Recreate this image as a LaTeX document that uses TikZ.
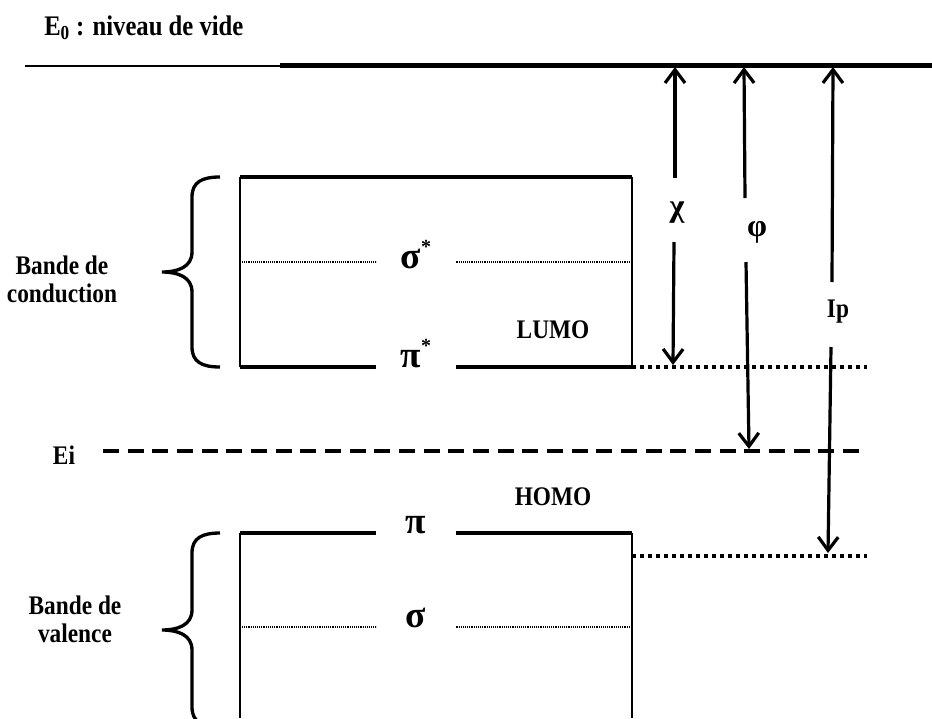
\documentclass[tikz,border=0pt]{standalone}
\usepackage{fontspec}
\usepackage{graphicx}
\setmainfont{Liberation Serif}
\usetikzlibrary{arrows.meta}

% texte un peu etire en hauteur
\newcommand{\haut}[1]{\scalebox{1}[1.15]{#1}}
% asterisque en exposant
\newcommand{\etoile}{\raisebox{11pt}{\fontsize{15}{15}\selectfont *}}

% accolade verticale : y haut, y bas (pointe au milieu)
\newcommand{\accolade}[2]{%
  \draw[accol] (220,#1) .. controls (202,#1) and (192,#1+5) .. (192,#1+20)
    -- (192,{(#1+#2)/2-20}) .. controls (192,{(#1+#2)/2-5}) and (178,{(#1+#2)/2}) .. (162,{(#1+#2)/2})
    .. controls (178,{(#1+#2)/2}) and (192,{(#1+#2)/2+5}) .. (192,{(#1+#2)/2+20})
    -- (192,#2-20) .. controls (192,#2-5) and (202,#2) .. (220,#2);}

\begin{document}
\begin{tikzpicture}[x=0.75pt, y=-0.75pt,
    vide/.style={line width=3.75pt},
    videg/.style={line width=2pt},
    bord/.style={line width=1.2pt},
    niveau/.style={line width=3pt},
    pointfin/.style={line width=0.8pt, dash pattern=on 0.7pt off 0.7pt},
    orb/.style={line width=2.5pt, dash pattern=on 3pt off 3pt},
    fermi/.style={line width=3pt, dash pattern=on 12pt off 6.5pt},
    accol/.style={line width=2.5pt},
    fleche/.style={line width=2.4pt, -{Straight Barb[length=10pt, width=15pt]}},
    lbl/.style={font=\fontsize{17.5}{21}\selectfont\bfseries, inner sep=0pt, align=center},
    sym/.style={font=\fontsize{24}{28}\selectfont\bfseries, inner sep=0pt},
    grec/.style={font=\fontsize{28}{32}\selectfont\bfseries, inner sep=0pt, minimum width=59pt}
]
\useasboundingbox (0,0) rectangle (932,718);

% Niveau du vide
\node[lbl, anchor=west, font=\fontsize{18.5}{22}\selectfont\bfseries] (E0) at (44,28) {\haut{E\textsubscript{0} : niveau de vide}};
\coordinate (vG) at (25,66);
\coordinate (vM) at (280,66);
\coordinate (vM2) at (280,65);
\coordinate (vD) at (932,65);
\draw[videg] (vG) -- (vM);
\draw[vide] (vM2) -- (vD);

% Bande de conduction
\coordinate (bcHG) at (240,177);
\coordinate (bcHD) at (632,177);
\coordinate (bcBG) at (240,367);
\coordinate (bcBD) at (632,367);
\coordinate (sseG) at (242,262);
\coordinate (sseD) at (632,262);
\node[grec, anchor=base] (sse) at (416,268) {σ\etoile};
\node[grec, anchor=base] (pie) at (416,367) {π\etoile};
\draw[niveau, line width=2.5pt] (bcHG) -- (bcHD);
\draw[bord] (bcHG) -- (bcBG);
\draw[bord] (bcHD) -- (bcBD);
\draw[pointfin] (sseG) -- (sseG -| sse.west);
\draw[pointfin] (sseD -| sse.east) -- (sseD);
\draw[niveau] (bcBG) -- (pie.base west);
\draw[niveau] (pie.base east) -- (bcBD);
\coordinate (lumoD) at (867,367);
\draw[orb] (bcBD) -- (lumoD);
\node[lbl] (lumo) at (553,330) {\haut{LUMO}};
\accolade{177}{367}
\node[lbl] (bc) at (62,279) {\haut{Bande de}\\\haut{conduction}};

% Niveau intrinseque
\node[lbl] (Ei) at (64,455) {\haut{Ei}};
\coordinate (EiG) at (103,451);
\coordinate (EiD) at (867,451);
\draw[fermi] (EiG) -- (EiD);
\node[lbl] (homo) at (553,497) {\haut{HOMO}};

% Bande de valence
\coordinate (bvHG) at (240,533);
\coordinate (bvHD) at (632,533);
\coordinate (bvBG) at (240,718);
\coordinate (bvBD) at (632,718);
\coordinate (sigG) at (242,627);
\coordinate (sigD) at (632,627);
\node[grec, anchor=base] (pi) at (416,533) {π};
\node[grec, anchor=base] (sig) at (416,627) {σ};
\draw[niveau] (bvHG) -- (pi.base west);
\draw[niveau] (pi.base east) -- (bvHD);
\draw[bord] (bvHG) -- (bvBG);
\draw[bord] (bvHD) -- (bvBD);
\draw[pointfin] (sigG) -- (sig.base west);
\draw[pointfin] (sig.base east) -- (sigD);
\coordinate (homoG) at (632,556);
\coordinate (homoD) at (867,556);
\draw[orb] (homoG) -- (homoD);
\accolade{533}{727}
\node[lbl] (bv) at (75,619) {\haut{Bande de}\\\haut{valence}};

% Affinite, travail de sortie, ionisation
\coordinate (chiH) at (675,67);
\coordinate (chiA) at (675,178);
\coordinate (chiC) at (674,242);
\coordinate (chiB) at (673,365);
\node[sym] (chi) at (677,213) {χ};
\draw[fleche] (chiA) -- (chiH);
\draw[fleche] (chiC) -- (chiB);

\coordinate (phiH) at (744,67);
\coordinate (phiA) at (745,198);
\coordinate (phiC) at (746,262);
\coordinate (phiB) at (749,449);
\node[sym] (phi) at (757,232) {φ};
\draw[fleche] (phiA) -- (phiH);
\draw[fleche] (phiC) -- (phiB);

\coordinate (ipH) at (833,67);
\coordinate (ipA) at (832,282);
\coordinate (ipC) at (831,347);
\coordinate (ipB) at (828,553);
\node[lbl] (ip) at (838,312) {\haut{Ip}};
\draw[fleche] (ipA) -- (ipH);
\draw[fleche] (ipC) -- (ipB);
\end{tikzpicture}
\end{document}
